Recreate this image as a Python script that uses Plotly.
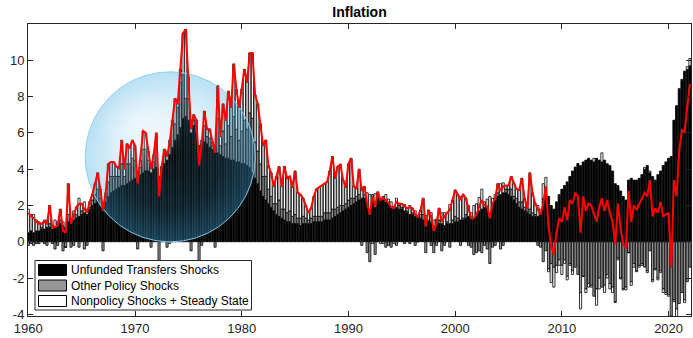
import numpy as np
import plotly.graph_objects as go

# ---------------- data (quarterly, 1960Q1 .. 2022Q1) ----------------
start_year = 1960
inflation = [
    1.6, 1.4, 1.3, 1.1,   1.0, 1.0, 1.1, 1.0,   2.0, 0.8, 0.8, 0.9,   1.8, 0.6, 0.5, 3.2,
    1.0, 1.5, 1.9, 2.1,   2.1, 1.8, 1.6, 2.2,   2.6, 3.2, 3.8, 2.9,   1.7, 2.7, 4.3, 4.4,
    4.4, 4.15, 4.05, 5.6, 4.0, 5.4, 5.15, 5.6,  5.3, 3.2, 4.5, 6.1,   6.0, 5.0, 4.0, 4.8,
    6.0, 2.5, 4.15, 5.1,  4.7, 5.5, 6.7, 7.9,   7.6, 9.5, 11.5, 11.7, 9.1, 6.2, 7.0, 6.7,
    4.2, 5.4, 7.2, 6.2,   6.2, 5.5, 4.9, 8.6,   5.8, 7.6, 6.7, 8.3,   7.4, 9.8, 8.4, 7.4,
    8.4, 9.5, 8.8, 10.4,  10.4, 8.1, 7.6, 6.5,  5.3, 5.6, 4.2, 3.8,   3.05, 3.6, 4.15, 3.05,
    4.15, 3.5, 3.6, 3.0,  3.9, 2.7, 2.6, 2.4,   2.0, 1.6, 1.85, 2.5,  2.9, 3.0, 3.1, 3.2,
    3.3, 3.9, 4.7, 3.5,   4.15, 4.25, 3.4, 3.0, 4.3, 4.6, 3.05, 2.95, 4.0, 2.8, 3.05, 2.1,
    1.5, 2.5, 1.95, 2.75, 2.3, 2.4, 2.3, 2.15,  1.9, 1.85, 2.2, 2.1,  2.1, 1.95, 1.85, 1.9,
    1.85, 1.5, 1.4, 1.75, 2.4, 0.85, 1.75, 1.4, 0.6, 1.05, 1.85, 1.1, 1.4, 1.6, 1.75, 2.3,
    2.85, 2.6, 2.3, 2.6,  2.4, 1.8, 1.3, 1.3,   1.5, 1.95, 2.3, 2.0,  1.95, 1.3, 2.1, 2.4,
    3.2, 2.8, 3.05, 3.1,  3.1, 3.6, 3.2, 2.9,   2.85, 3.5, 2.4, 1.8,  3.8, 2.7, 2.1, 1.8,
    1.5, 2.1, 3.05, 0.85, -0.25, -0.7, 0.5, 1.3, 1.1, 1.9, 1.2, 2.3,  2.1, 2.7, 2.5, 0.5,
    2.5, 1.7, 2.1, 2.0,   1.6, 1.1, 1.9, 2.4,   1.7, 2.3, 1.6, 1.1,   -0.15, 2.1, 0.75, -0.15,
    -0.35, 2.8, 1.1, 2.0, 1.75, 2.1, 2.4, 2.7,  2.5, 3.4, 1.4, 1.85,  1.6, 2.2, 1.4, 1.5,
    1.6, -1.45, 3.4, 2.5, 5.05, 6.15, 6.05, 7.45,
    8.7,
]

unfunded_transfers = [
    0.5, 0.6, 0.5, 0.6,   0.6, 0.7, 0.7, 0.8,   0.8, 0.7, 0.8, 0.9,   1.0, 0.9, 0.8, 1.1,
    1.1, 1.2, 1.3, 1.4,   1.5, 1.6, 1.5, 1.8,   2.0, 2.1, 2.2, 2.0,   1.8, 2.2, 2.5, 2.7,
    2.8, 2.9, 3.0, 3.1,   3.1, 3.2, 3.3, 3.4,   3.5, 3.3, 3.7, 3.8,   3.9, 3.9, 3.8, 4.0,
    4.1, 3.6, 4.1, 4.3,   4.5, 4.8, 5.2, 5.6,   5.9, 6.3, 6.8, 6.9,   6.7, 6.0, 6.4, 6.0,
    5.3, 5.4, 5.5, 5.4,   5.2, 5.1, 4.9, 4.9,   4.8, 4.7, 4.6, 4.6,   4.5, 4.5, 4.4, 4.4,
    4.3, 4.3, 4.2, 4.1,   3.8, 3.5, 3.2, 2.8,   2.5, 2.3, 2.1, 1.9,   1.7, 1.5, 1.4, 1.3,
    1.2, 1.1, 1.1, 1.0,   1.0, 1.0, 0.9, 1.0,   1.0, 1.0, 1.0, 1.1,   1.1, 1.1, 1.1, 1.2,
    1.2, 1.2, 1.3, 1.4,   1.5, 1.6, 1.7, 1.8,   1.9, 2.0, 2.1, 2.2,   2.3, 2.4, 2.4, 2.1,
    1.5, 2.4, 1.9, 2.4,   2.3, 2.3, 2.2, 2.1,   1.9, 1.85, 1.9, 1.8,  1.8, 1.7, 1.6, 1.5,
    1.5, 1.4, 1.3, 1.3,   1.2, 0.85, 1.1, 1.1,  0.6, 1.0, 1.0, 1.0,   0.9, 1.0, 1.0, 1.0,
    1.1, 1.1, 1.2, 1.2,   1.3, 1.4, 1.3, 1.3,   1.5, 1.7, 1.8, 1.9,   1.95, 1.3, 2.1, 2.3,
    2.5, 2.6, 2.7, 2.7,   2.6, 2.5, 2.3, 2.1,   1.9, 1.8, 1.7, 1.6,   1.5, 1.4, 1.4, 1.4,
    1.5, 2.4, 2.8, 2.5,   2.0, 1.8, 2.2, 2.6,   2.9, 3.1, 3.3, 3.6,   3.9, 4.1, 4.3, 4.2,
    4.4, 4.5, 4.6, 4.5,   4.4, 4.6, 4.5, 4.4,   4.5, 4.3, 4.2, 3.9,   3.2, 3.1, 2.8, 2.5,
    2.3, 3.4, 3.5, 3.4,   3.4, 3.5, 3.7, 4.0,   4.2, 3.8, 3.6, 3.4,   3.7, 3.9, 4.2, 4.4,
    4.6, 4.7, 6.7, 7.5,   8.4, 8.9, 9.4, 9.5,
    9.7,
]

other_policy = [
    -0.2, -0.1, -0.2, -0.1, -0.1, 0.1, -0.1, -0.2, 0.2, -0.1, -0.4, -0.2, 0.2, -0.5, -0.3, 0.4,
    -0.3, -0.2, 0.2, -0.3, 0.2, -0.4, -0.2, 0.1,  0.3, 0.5, 0.7, 0.4,    -0.5, 0.3, 0.8, 0.9,
    0.8, 0.7, 0.6, 1.2,    0.5, 1.1, 1.0, 1.2,    1.0, -0.4, 0.4, 1.3,   1.2, 0.6, -0.3, 0.4,
    1.0, -1.1, 0.0, 0.5,   -0.3, 0.8, 1.2, 0.9,   1.5, 2.5, 2.4, 1.0,    1.2, -0.5, 0.3, 0.4,
    -1.1, -0.2, 0.9, 0.4,  0.5, 0.2, -0.3, 1.9,   0.5, 1.4, 0.8, 1.8,    1.3, 2.4, 1.8, 1.2,
    1.8, 2.4, 2.0, 3.0,    3.0, 2.0, 1.8, 1.5,    1.1, 1.3, 0.8, 0.6,    0.4, 0.6, 0.9, 0.5,
    0.6, 0.5, 0.6, 0.4,    0.5, 0.3, 0.4, 0.4,    0.3, 0.2, 0.3, 0.3,    0.3, 0.3, 0.3, 0.4,
    0.4, 0.4, 0.5, 0.4,    0.4, 0.4, 0.3, 0.3,    0.4, 0.4, 0.3, 0.3,    0.3, -0.2, 0.2, -0.6,
    -1.1, 0.2, -0.7, 0.2,  0.1, 0.2, -0.3, -0.2,  -0.3, 0.1, -0.2, 0.2,  0.1, -0.1, 0.1, -0.1,
    0.1, -0.2, 0.1, 0.2,   0.3, -0.6, 0.1, -0.2,  -0.6, -0.2, 0.2, -0.5, -0.2, 0.1, -0.3, 0.2,
    0.3, 0.2, -0.2, 0.1,   0.2, -0.2, -0.3, -0.7, -0.6, -0.5, -0.6, -0.2, -0.4, -1.2, -0.3, -0.2,
    0.2, -0.4, -0.2, 0.2,  0.3, 0.4, 0.2, 0.3,    0.3, 0.4, 0.2, 0.1,    0.3, 0.2, 0.1, -0.2,
    -0.3, -1.1, -0.5, -1.5, -1.2, -1.4, -1.3, -1.0, -1.3, -1.0, -1.9, -1.2, -1.6, -1.4, -1.8, -2.8,
    -1.9, -2.6, -2.3, -2.4, -3.0, -2.6, -2.0, -2.5, -2.4, -1.8, -2.3, -2.5, -3.3, -0.9, -2.0, -2.6,
    -2.5, -0.6, -2.2, -1.2, -1.6, -1.3, -1.2, -1.4, -1.6, -0.5, -2.1, -1.5, -2.0, -1.6, -2.6, -2.8,
    -2.9, -4.1, -3.2, -3.7, -3.4, -2.8, -3.2, -2.2,
    -1.4,
]

# nonpolicy shocks + steady state: the remainder of inflation
nonpolicy = [t - a - b for t, a, b in zip(inflation, unfunded_transfers, other_policy)]
dates = [start_year + 0.25 * i for i in range(len(inflation))]

series_names = ["Unfunded Transfers Shocks", "Other Policy Shocks",
                "Nonpolicy Shocks + Steady State"]
x_ticks = [1960, 1970, 1980, 1990, 2000, 2010, 2020]
y_ticks = [-4, -2, 0, 2, 4, 6, 8, 10]

# ---------------- layout geometry ----------------
W, H = 693, 338
L, R, T, B = 28, 2, 24, 22
x_range = [1959.97, 2022.1]
y_range = [-4.09, 12.0]
plot_w = W - L - R
plot_h = H - T - B
px_per_x = plot_w / (x_range[1] - x_range[0])
px_per_y = plot_h / (y_range[1] - y_range[0])

FONT = "Liberation Sans, Arial, Helvetica, sans-serif"
AXC = "#262626"

fig = go.Figure()

bar_fill = ["#000000", "#969696", "#ffffff"]
for name, vals, col in zip(series_names, [unfunded_transfers, other_policy, nonpolicy], bar_fill):
    fig.add_trace(go.Bar(x=dates, y=vals, name=name, width=0.2,
                         marker=dict(color=col, line=dict(color="black", width=0.8)),
                         showlegend=False))

# translucent highlight circle (drawn between bars and line)
def circle_pts(cx, cy, r_px):
    th = np.linspace(0, 2 * np.pi, 241)
    return (cx + (r_px / px_per_x) * np.cos(th), cy + (r_px / px_per_y) * np.sin(th))

cx, cy, r_px = 1973.3, 4.68, 85
ccx, ccy = circle_pts(cx, cy, r_px)
fig.add_trace(go.Scatter(
    x=ccx, y=ccy, mode="lines", fill="toself",
    line=dict(color="rgba(140,205,238,0.95)", width=1),
    fillgradient=dict(type="radial",
                      colorscale=[[0, "rgba(60,170,225,0.07)"],
                                  [0.6, "rgba(60,170,225,0.17)"],
                                  [1, "rgba(60,170,225,0.36)"]]),
    showlegend=False, hoverinfo="skip"))
# soft specular highlight toward the upper left
hx, hy = circle_pts(cx - 0.35 * r_px / px_per_x, cy + 0.35 * r_px / px_per_y, 0.5 * r_px)
fig.add_trace(go.Scatter(
    x=hx, y=hy, mode="none", fill="toself",
    fillgradient=dict(type="radial",
                      colorscale=[[0, "rgba(255,255,255,0.4)"],
                                  [1, "rgba(255,255,255,0.0)"]]),
    showlegend=False, hoverinfo="skip"))

fig.add_trace(go.Scatter(x=dates, y=inflation, mode="lines",
                         line=dict(color="#ff0000", width=2), showlegend=False))

# ---------------- custom MATLAB-style legend ----------------
def px2paper_x(px):
    return (px - L) / plot_w

def px2paper_y(py):
    return (H - B - py) / plot_h

shapes = []
annotations = []
shapes.append(dict(type="rect", xref="paper", yref="paper",
                   x0=px2paper_x(35), x1=px2paper_x(251.5),
                   y0=px2paper_y(310), y1=px2paper_y(260.5),
                   fillcolor="white", line=dict(color=AXC, width=1), layer="above"))
rows = [(264.5, 275.5), (280, 291), (295.5, 306.5)]
for (y0, y1), name, col in zip(rows, series_names, bar_fill):
    shapes.append(dict(type="rect", xref="paper", yref="paper",
                       x0=px2paper_x(38.5), x1=px2paper_x(66.5),
                       y0=px2paper_y(y1), y1=px2paper_y(y0),
                       fillcolor=col, line=dict(color="black", width=1), layer="above"))
    annotations.append(dict(xref="paper", yref="paper", x=px2paper_x(68.5),
                            y=px2paper_y((y0 + y1) / 2), text=name, showarrow=False,
                            xanchor="left", yanchor="middle",
                            font=dict(family=FONT, size=12, color="black")))

fig.update_layout(
    width=W, height=H,
    margin=dict(l=L, r=R, t=T, b=B, pad=0),
    paper_bgcolor="white", plot_bgcolor="white",
    barmode="relative", bargap=0.2,
    title=dict(text="<b>Inflation</b>", x=(L + plot_w / 2) / W, xanchor="center",
               y=1 - 12 / H, yanchor="middle", yref="container",
               font=dict(family=FONT, size=14, color="black")),
    shapes=shapes, annotations=annotations,
    font=dict(family=FONT, size=13, color=AXC),
)
fig.update_xaxes(range=x_range, tickvals=x_ticks, ticktext=[str(v) for v in x_ticks],
                 showgrid=False, zeroline=False, showline=True, linecolor=AXC, linewidth=1,
                 mirror="allticks", ticks="inside", ticklen=5, tickcolor=AXC, tickwidth=1,
                 tickfont=dict(family=FONT, size=13, color=AXC), automargin=False)
fig.update_yaxes(range=y_range, tickvals=y_ticks, ticktext=[str(v) for v in y_ticks],
                 showgrid=False, zeroline=False, showline=True, linecolor=AXC, linewidth=1,
                 mirror="allticks", ticks="inside", ticklen=5, tickcolor=AXC, tickwidth=1,
                 tickfont=dict(family=FONT, size=13, color=AXC), automargin=False)

fig.write_html("out.html", config={"displayModeBar": False},
               post_script="document.body.style.margin='0';")
